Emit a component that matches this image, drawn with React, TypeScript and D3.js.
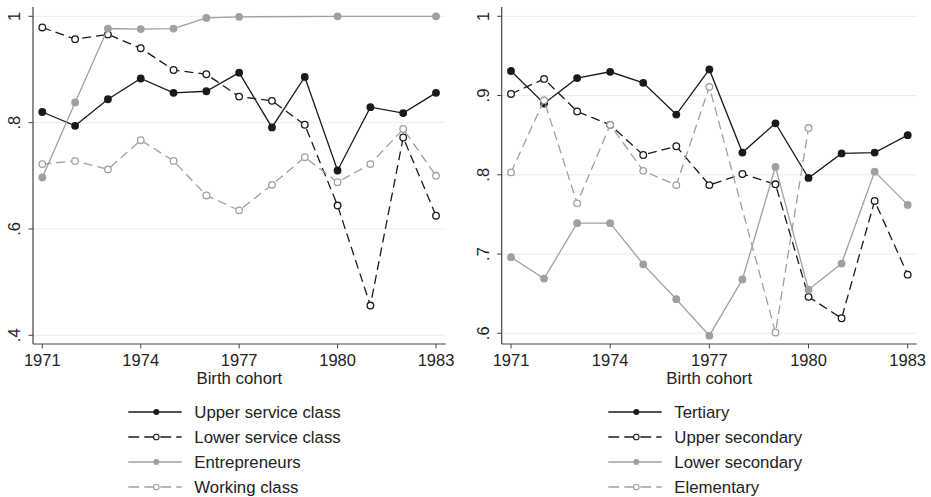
import React from "react";
import * as d3 from "d3";

const years = [1971, 1972, 1973, 1974, 1975, 1976, 1977, 1978, 1979, 1980, 1981, 1982, 1983];
const xTicks = [1971, 1974, 1977, 1980, 1983];

// Left panel: social class
const upperService = [0.82, 0.794, 0.844, 0.883, 0.856, 0.859, 0.894, 0.791, 0.886, 0.71, 0.829, 0.818, 0.856];
const lowerService = [0.979, 0.957, 0.966, 0.94, 0.899, 0.891, 0.849, 0.841, 0.796, 0.644, 0.456, 0.772, 0.625];
const entrepreneurs = [0.697, 0.838, 0.977, 0.976, 0.977, 0.997, 0.999, null, null, 1.0, null, null, 1.0];
const workingClass = [0.722, 0.728, 0.712, 0.767, 0.728, 0.663, 0.635, 0.683, 0.735, 0.688, 0.722, 0.788, 0.7];
const leftYTicks = [0.4, 0.6, 0.8, 1];
const leftYLabels = [".4", ".6", ".8", "1"];

// Right panel: education
const tertiary = [0.931, 0.89, 0.922, 0.93, 0.916, 0.876, 0.933, 0.828, 0.865, 0.796, 0.827, 0.828, 0.85];
const upperSecondary = [0.902, 0.921, 0.88, 0.863, 0.825, 0.836, 0.787, 0.801, 0.788, 0.646, 0.619, 0.767, 0.674];
const lowerSecondary = [0.696, 0.669, 0.739, 0.739, 0.687, 0.643, 0.597, 0.668, 0.81, 0.655, 0.688, 0.804, 0.762];
const elementary = [0.803, 0.894, 0.764, 0.863, 0.805, 0.787, 0.911, null, 0.601, 0.859, null, null, null];
const rightYTicks = [0.6, 0.7, 0.8, 0.9, 1];
const rightYLabels = [".6", ".7", ".8", ".9", "1"];

const leftNames = ["Upper service class", "Lower service class", "Entrepreneurs", "Working class"];
const rightNames = ["Tertiary", "Upper secondary", "Lower secondary", "Elementary"];

const BLACK = "#1a1a1a";
const GRAY = "#a0a0a0";
const FONT = "'Liberation Sans', Arial, Helvetica, sans-serif";
const TEXT = "#222";
const DASH = "9,5";

type Style = { color: string; filled: boolean; dashed: boolean };
const styles: Style[] = [
  { color: BLACK, filled: true, dashed: false },
  { color: BLACK, filled: false, dashed: true },
  { color: GRAY, filled: true, dashed: false },
  { color: GRAY, filled: false, dashed: true },
];

type PanelProps = {
  x0: number; x1: number; xFirst: number; xLast: number;
  yTop: number; yBottom: number;
  yDomain: [number, number]; yRange: [number, number];
  yTicks: number[]; yLabels: string[];
  series: (number | null)[][];
  names: string[];
  legendX: number;
};

function Panel(p: PanelProps) {
  const x = d3.scaleLinear().domain([1971, 1983]).range([p.xFirst, p.xLast]);
  const y = d3.scaleLinear().domain(p.yDomain).range(p.yRange);
  const mid = (p.x0 + p.x1) / 2;
  const legendRows = [412, 437, 462, 487];
  return (
    <g>
      {p.yTicks.map((t) => (
        <line key={"g" + t} x1={p.x0} x2={p.x1} y1={y(t)} y2={y(t)} stroke="#ececec" strokeWidth={1} />
      ))}
      <line x1={p.x0} x2={p.x0} y1={p.yTop} y2={p.yBottom} stroke="#444" strokeWidth={1.2} />
      <line x1={p.x0} x2={p.x1} y1={p.yBottom} y2={p.yBottom} stroke="#444" strokeWidth={1.2} />
      {p.yTicks.map((t, i) => (
        <g key={"yt" + t}>
          <line x1={p.x0 - 4.5} x2={p.x0} y1={y(t)} y2={y(t)} stroke="#444" strokeWidth={1} />
          <text
            transform={`translate(${p.x0 - 13},${y(t)}) rotate(-90)`}
            textAnchor="middle"
            fontFamily={FONT}
            fontSize={16.5}
            fill={TEXT}
          >
            {p.yLabels[i]}
          </text>
        </g>
      ))}
      {xTicks.map((t) => (
        <g key={"xt" + t}>
          <line x1={x(t)} x2={x(t)} y1={p.yBottom} y2={p.yBottom + 4.5} stroke="#444" strokeWidth={1} />
          <text x={x(t)} y={366} textAnchor="middle" fontFamily={FONT} fontSize={16.5} fill={TEXT}>
            {t}
          </text>
        </g>
      ))}
      <text x={mid} y={383.5} textAnchor="middle" fontFamily={FONT} fontSize={16.8} fill={TEXT}>
        Birth cohort
      </text>
      {p.series.map((vals, si) => {
        const st = styles[si];
        const pts = years
          .map((yr, i) => ({ yr, v: vals[i] }))
          .filter((d) => d.v !== null) as { yr: number; v: number }[];
        const line = d3
          .line<{ yr: number; v: number }>()
          .x((d) => x(d.yr))
          .y((d) => y(d.v));
        return (
          <g key={"s" + si}>
            <path
              d={line(pts) || ""}
              fill="none"
              stroke={st.color}
              strokeWidth={1.3}
              strokeDasharray={st.dashed ? DASH : undefined}
            />
            {pts.map((d) =>
              st.filled ? (
                <circle key={d.yr} cx={x(d.yr)} cy={y(d.v)} r={3.9} fill={st.color} />
              ) : (
                <circle key={d.yr} cx={x(d.yr)} cy={y(d.v)} r={3.3} fill="#fff" stroke={st.color} strokeWidth={1.3} />
              )
            )}
          </g>
        );
      })}
      {p.names.map((n, i) => {
        const st = styles[i];
        const ly = legendRows[i];
        const lx = p.legendX;
        return (
          <g key={"l" + i}>
            <line
              x1={lx}
              x2={lx + 53.4}
              y1={ly}
              y2={ly}
              stroke={st.color}
              strokeWidth={1.3}
              strokeDasharray={st.dashed ? "11,5" : undefined}
            />
            {st.filled ? (
              <circle cx={lx + 28} cy={ly} r={3} fill={st.color} />
            ) : (
              <circle cx={lx + 28} cy={ly} r={2.8} fill="#fff" stroke={st.color} strokeWidth={1.1} />
            )}
            <text x={lx + 66} y={ly + 6} fontFamily={FONT} fontSize={16.8} fill={TEXT}>
              {n}
            </text>
          </g>
        );
      })}
    </g>
  );
}

export default function App() {
  return (
    <svg
      width={931}
      height={497}
      style={{ position: "absolute", left: 0, top: 0, background: "#fff" }}
    >
      <rect width={931} height={497} fill="#fff" />
      <Panel
        x0={33}
        x1={445.7}
        xFirst={42.3}
        xLast={436}
        yTop={7}
        yBottom={344}
        yDomain={[0.4, 1]}
        yRange={[335.3, 16.3]}
        yTicks={leftYTicks}
        yLabels={leftYLabels}
        series={[upperService, lowerService, entrepreneurs, workingClass]}
        names={leftNames}
        legendX={128.3}
      />
      <Panel
        x0={501.7}
        x1={916.7}
        xFirst={511}
        xLast={907.7}
        yTop={7}
        yBottom={344}
        yDomain={[0.6, 1]}
        yRange={[333.3, 16.3]}
        yTicks={rightYTicks}
        yLabels={rightYLabels}
        series={[tertiary, upperSecondary, lowerSecondary, elementary]}
        names={rightNames}
        legendX={608.3}
      />
    </svg>
  );
}
